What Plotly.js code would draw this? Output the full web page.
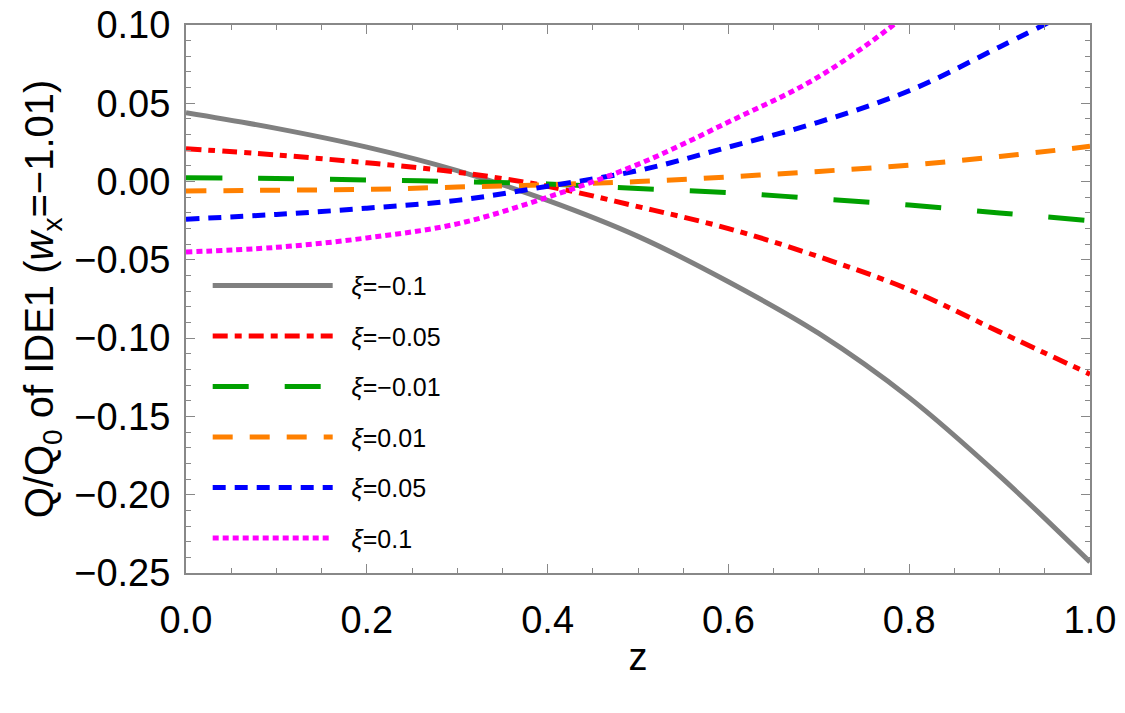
<!DOCTYPE html>
<html>
<head>
<meta charset="utf-8">
<script src="https://cdn.plot.ly/plotly-3.0.1.min.js"></script>
<style>
  html, body { margin: 0; padding: 0; background: #fff; }
  #chart { width: 1125px; height: 713px; }
</style>
</head>
<body>
<div id="chart"></div>
<script>
// Redshift grid
const z = [0, 0.1, 0.2, 0.3, 0.4, 0.5, 0.6, 0.7, 0.8, 0.9, 1.0];

// Q/Q0 for each coupling xi
const qXiM010 = [0.044, 0.034, 0.022, 0.007, -0.012, -0.035, -0.064, -0.097, -0.138, -0.188, -0.243];
const qXiM005 = [0.021, 0.017, 0.012, 0.006, -0.003, -0.016, -0.030, -0.048, -0.069, -0.096, -0.123];
const qXiM001 = [0.0025, 0.002, 0.001, 0.0, -0.0015, -0.0045, -0.007, -0.011, -0.015, -0.020, -0.025];
const qXiP001 = [-0.006, -0.0055, -0.005, -0.0035, -0.002, 0.0, 0.003, 0.0065, 0.0105, 0.016, 0.0225];
const qXiP005 = [-0.024, -0.021, -0.017, -0.012, -0.003, 0.007, 0.022, 0.038, 0.058, 0.086, 0.115];
const qXiP010 = [-0.045, -0.042, -0.036, -0.027, -0.010, 0.011, 0.038, 0.067, 0.108, 0.160, 0.220];

const seriesNames = ['<i>ξ</i>=−0.1', '<i>ξ</i>=−0.05', '<i>ξ</i>=−0.01', '<i>ξ</i>=0.01', '<i>ξ</i>=0.05', '<i>ξ</i>=0.1'];
const seriesValues = [qXiM010, qXiM005, qXiM001, qXiP001, qXiP005, qXiP010];
const seriesColors = ['#808080', '#ff0000', '#00a000', '#ff8000', '#0000ff', '#ff00ff'];
const seriesDash = ['solid', '15px,7px,7px,7px', '36px,36px', '20px,17px', '13px,9px', '6px,4px'];

const xTicks = [0, 0.2, 0.4, 0.6, 0.8, 1.0];
const xTickText = ['0.0', '0.2', '0.4', '0.6', '0.8', '1.0'];
const yTicks = [0.10, 0.05, 0.00, -0.05, -0.10, -0.15, -0.20, -0.25];
const yTickText = ['0.10', '0.05', '0.00', '−0.05', '−0.10', '−0.15', '−0.20', '−0.25'];

// a little space between each legend line sample and its label
const labelGap = '\u00a0\u00a0';

const traces = seriesValues.map((vals, i) => ({
  x: z,
  y: vals,
  type: 'scatter',
  mode: 'lines',
  name: labelGap + seriesNames[i],
  legendgroup: 'g' + i,
  line: { color: seriesColors[i], width: 5, dash: seriesDash[i], shape: 'spline', smoothing: 1 }
}));

const frameColor = '#888888';
const font = 'Liberation Sans, Arial, sans-serif';

const axisCommon = {
  showgrid: false,
  zeroline: false,
  showline: true,
  linecolor: frameColor,
  linewidth: 2,
  mirror: 'allticks',
  ticks: 'inside',
  ticklen: 9,
  tickwidth: 1,
  tickcolor: frameColor,
  tickfont: { family: font, size: 38, color: '#000' }
};

const layout = {
  width: 1125,
  height: 713,
  paper_bgcolor: '#fff',
  plot_bgcolor: '#fff',
  margin: { l: 186, r: 35, t: 25, b: 140 },
  showlegend: true,
  legend: {
    x: 0.024, y: 0.566, xanchor: 'left', yanchor: 'top',
    bgcolor: 'rgba(0,0,0,0)',
    borderwidth: 0,
    itemwidth: 120,
    tracegroupgap: 15,
    traceorder: 'grouped',
    font: { family: font, size: 25, color: '#000' }
  },
  xaxis: Object.assign({}, axisCommon, {
    range: [0, 1],
    tickvals: xTicks,
    ticktext: xTickText,
    ticklabelstandoff: 12,
    minor: { dtick: 0.05, ticks: 'inside', ticklen: 5, tickcolor: frameColor, tickwidth: 1 },
    title: { text: 'z', font: { family: font, size: 38, color: '#000' }, standoff: 4 }
  }),
  yaxis: Object.assign({}, axisCommon, {
    range: [-0.25, 0.10],
    tickvals: yTicks,
    ticktext: yTickText,
    ticklabelstandoff: 6,
    minor: { dtick: 0.01, ticks: 'inside', ticklen: 5, tickcolor: frameColor, tickwidth: 1 },
    title: {
      text: 'Q/Q<sub>0</sub> of IDE1 (<i>w</i><sub>x</sub>=−1.01)',
      font: { family: font, size: 40, color: '#000' },
      standoff: 8
    }
  })
};

Plotly.newPlot('chart', traces, layout, { displayModeBar: false, staticPlot: true });
</script>
</body>
</html>
